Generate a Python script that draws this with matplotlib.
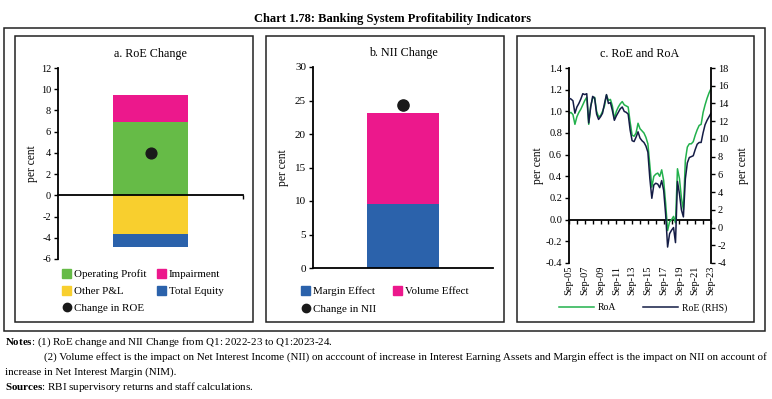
import numpy as np
import pandas as pd
import matplotlib
matplotlib.use("Agg")
import matplotlib.pyplot as plt
import matplotlib.patches as mpatches
from matplotlib.lines import Line2D

plt.rcParams["font.family"] = ["Liberation Serif", "DejaVu Serif"]
plt.rcParams["axes.unicode_minus"] = False
plt.rcParams["mathtext.fontset"] = "custom"
plt.rcParams["mathtext.rm"] = "Liberation Serif"
plt.rcParams["mathtext.bf"] = "Liberation Serif:bold"

# ---------------------------------------------------------------------------
# Data
# ---------------------------------------------------------------------------
# a. RoE change decomposition (per cent)
roe_pos_labels = ["Operating Profit", "Impairment"]
roe_pos_values = [6.9, 2.6]
roe_neg_labels = ["Other P&L", "Total Equity"]
roe_neg_values = [-3.6, -1.3]
roe_change = 4.0

# b. NII change decomposition (per cent)
nii_labels = ["Margin Effect", "Volume Effect"]
nii_values = [9.6, 13.5]
nii_change = 24.3

# c. RoA (LHS) and RoE (RHS), quarterly Sep-05 .. Sep-23
quarters = pd.period_range("2005Q3", "2023Q3", freq="Q")
roa = [0.98, 0.99, 0.97, 0.88, 0.95, 0.99, 1.02, 1.06, 1.10, 1.13,
       0.88, 1.05, 1.12, 1.13, 1.00, 0.95, 0.96, 1.00, 1.05, 1.15,
       1.10, 1.11, 1.05, 0.93, 1.00, 1.04, 1.07, 1.09, 1.06, 1.05,
       1.04, 0.90, 0.78, 0.77, 0.80, 0.89, 0.84, 0.82, 0.80, 0.76,
       0.70, 0.50, 0.30, 0.40, 0.42, 0.43, 0.40, 0.46, 0.36, 0.15,
       -0.10, -0.02, 0.00, 0.03, -0.03, 0.47, 0.38, 0.20, 0.09, 0.55,
       0.67, 0.70, 0.70, 0.72, 0.78, 0.83, 0.87, 0.88, 0.99, 1.06,
       1.12, 1.17, 1.21]
roe = [14.6, 14.5, 14.3, 12.9, 13.6, 14.0, 14.5, 15.1, 15.0, 15.1,
       11.8, 13.6, 14.8, 14.6, 12.8, 12.2, 12.5, 12.9, 14.0, 15.0,
       14.0, 14.1, 13.2, 12.1, 12.6, 13.0, 13.4, 13.6, 13.1, 13.0,
       12.8, 11.0, 9.8, 9.7, 10.2, 10.8, 10.1, 9.8, 9.6, 9.2,
       8.5, 5.5, 3.3, 4.8, 5.0, 4.9, 4.5, 5.3, 4.2, 1.5,
       -2.2, -0.7, -0.3, 0.0, -1.7, 5.2, 3.8, 2.0, 1.2, 5.5,
       7.3, 7.9, 8.0, 8.1, 8.8, 9.4, 9.6, 9.6, 10.7, 11.6,
       12.1, 12.5, 12.9]

# ---------------------------------------------------------------------------
# Styling
# ---------------------------------------------------------------------------
GREEN = "#66bb47"
PINK = "#ec188c"
YELLOW = "#f8cf2e"
BLUE = "#2b62ab"
DOT = "#1a1a1a"
LINE_GREEN = "#22b14c"
LINE_NAVY = "#141c45"

W, H = 772, 399
fig = plt.figure(figsize=(W / 100, H / 100), dpi=100)


def px_rect(x0, y0, x1, y1, lw=1.1):
    fig.patches.append(mpatches.Rectangle(
        (x0 / W, 1 - y1 / H), (x1 - x0) / W, (y1 - y0) / H,
        transform=fig.transFigure, fill=False, edgecolor="#222222", lw=lw))


def px_axes(x0, y0, x1, y1):
    return fig.add_axes([x0 / W, 1 - y1 / H, (x1 - x0) / W, (y1 - y0) / H])


# frames
px_rect(4, 28, 765, 331)
px_rect(15, 36, 253, 322)
px_rect(266, 36, 504, 322)
px_rect(517, 36, 754, 322)

fig.text(393 / W, 1 - 19 / H, "Chart 1.78: Banking System Profitability Indicators",
         ha="center", va="center", fontsize=9, fontweight="bold")

TICK_FS = 7.5
LAB_FS = 8.3
TITLE_FS = 8.7
LEG_FS = 7.9

# ---------------------------------------------------------------------------
# a. RoE Change
# ---------------------------------------------------------------------------
ax = px_axes(58, 68, 243, 259)
ax.bar(0, roe_pos_values[0], width=0.81, color=GREEN)
ax.bar(0, roe_pos_values[1], bottom=roe_pos_values[0], width=0.81, color=PINK)
ax.bar(0, roe_neg_values[0], width=0.81, color=YELLOW)
ax.bar(0, roe_neg_values[1], bottom=roe_neg_values[0], width=0.81, color=BLUE)
ax.scatter([0], [roe_change], s=60, color=DOT, zorder=5)
ax.set_xlim(-1, 1)
ax.set_ylim(-6, 12)
ax.set_yticks(np.arange(-6, 13, 2))
ax.set_xticks([1])
ax.set_xticklabels([])
for s in ["top", "right"]:
    ax.spines[s].set_visible(False)
ax.spines["bottom"].set_position(("data", 0))
ax.spines["bottom"].set_linewidth(1.3)
ax.spines["left"].set_linewidth(1.3)
ax.tick_params(axis="both", direction="out", length=3, width=1, labelsize=TICK_FS, pad=2)
ax.set_ylabel("per cent", fontsize=LAB_FS, labelpad=2)
ax.set_title("a. RoE Change", fontsize=TITLE_FS, pad=8)
handles_a = [
    mpatches.Patch(color=GREEN, label=roe_pos_labels[0]),
    mpatches.Patch(color=YELLOW, label=roe_neg_labels[0]),
    Line2D([], [], marker="o", ls="", color=DOT, markersize=6, label="Change in ROE"),
    mpatches.Patch(color=PINK, label=roe_pos_labels[1]),
    mpatches.Patch(color=BLUE, label=roe_neg_labels[1]),
]
ax.legend(handles=handles_a, ncol=2, loc="upper left", bbox_to_anchor=(0.0, -0.03),
          frameon=False, fontsize=LEG_FS, handlelength=0.8, handleheight=0.8,
          handletextpad=0.3, columnspacing=0.9, labelspacing=0.65, borderaxespad=0)

# ---------------------------------------------------------------------------
# b. NII Change
# ---------------------------------------------------------------------------
bx = px_axes(313, 67, 493, 268)
bx.bar(0, nii_values[0], width=0.8, color=BLUE)
bx.bar(0, nii_values[1], bottom=nii_values[0], width=0.8, color=PINK)
bx.scatter([0], [nii_change], s=65, color=DOT, zorder=5)
bx.set_xlim(-1, 1)
bx.set_ylim(0, 30)
bx.set_yticks(np.arange(0, 31, 5))
bx.set_xticks([])
for s in ["top", "right"]:
    bx.spines[s].set_visible(False)
bx.spines["bottom"].set_linewidth(1.3)
bx.spines["left"].set_linewidth(1.3)
bx.tick_params(axis="y", direction="out", length=3, width=1, labelsize=TICK_FS + 0.5, pad=2)
bx.set_ylabel("per cent", fontsize=LAB_FS, labelpad=4)
bx.set_title("b. NII Change", fontsize=TITLE_FS, pad=8)
handles_b = [
    mpatches.Patch(color=BLUE, label=nii_labels[0]),
    Line2D([], [], marker="o", ls="", color=DOT, markersize=6, label="Change in NII"),
    mpatches.Patch(color=PINK, label=nii_labels[1]),
]
bx.legend(handles=handles_b, ncol=2, loc="upper left", bbox_to_anchor=(-0.09, -0.07),
          frameon=False, fontsize=LEG_FS, handlelength=0.8, handleheight=0.8,
          handletextpad=0.3, columnspacing=1.5, labelspacing=0.65, borderaxespad=0)

# ---------------------------------------------------------------------------
# c. RoE and RoA
# ---------------------------------------------------------------------------
cx = px_axes(569, 68, 711, 263)
x = np.arange(len(quarters))
cx.plot(x, roa, color=LINE_GREEN, lw=1.1, label="RoA")
cx.set_xlim(0, len(quarters) - 1)
ylim_c = (-0.4, 1.4)
cx.set_ylim(*ylim_c)
cx.set_yticks(np.arange(-0.4, 1.41, 0.2))
cx.yaxis.set_major_formatter(matplotlib.ticker.FormatStrFormatter("%.1f"))
cx.tick_params(axis="y", direction="out", length=3, width=1, labelsize=TICK_FS, pad=2)
label_pos = x[::8]
cx.set_xticks(label_pos)
cx.set_xticklabels([q.strftime("%b-%y") for q in quarters[::8]], rotation=90,
                   fontsize=TICK_FS)
cx.tick_params(axis="x", length=0, pad=2)
for s in ["top", "right", "bottom"]:
    cx.spines[s].set_visible(False)
cx.spines["left"].set_linewidth(1.3)
cx.set_ylabel("per cent", fontsize=LAB_FS, labelpad=1)
cx.set_title("c. RoE and RoA", fontsize=TITLE_FS, pad=8)

# zero line with yearly ticks
zero_loc = (0 - ylim_c[0]) / (ylim_c[1] - ylim_c[0])
sec = cx.secondary_xaxis(zero_loc)
sec.set_xticks(x[::4])
sec.set_xticklabels([])
sec.tick_params(axis="x", direction="out", length=3, width=1)
sec.spines["bottom"].set_linewidth(1.3)

cx2 = cx.twinx()
cx2.plot(x, roe, color=LINE_NAVY, lw=1.1, label="RoE (RHS)")
cx2.set_ylim(-4, 18)
cx2.set_yticks(np.arange(-4, 19, 2))
for s in ["top", "left", "bottom"]:
    cx2.spines[s].set_visible(False)
cx2.spines["right"].set_linewidth(1.3)
cx2.tick_params(axis="y", direction="out", length=3, width=1, labelsize=TICK_FS, pad=2)
cx2.set_ylabel("per cent", fontsize=LAB_FS, labelpad=6)

handles_c = [Line2D([], [], color=LINE_GREEN, lw=1.1, label="RoA"),
             Line2D([], [], color=LINE_NAVY, lw=1.1, label="RoE (RHS)")]
cx.legend(handles=handles_c, ncol=2, loc="center", bbox_to_anchor=(0.52, -0.23),
          frameon=False, fontsize=7.0, handlelength=3.6, handletextpad=0.4,
          columnspacing=2.8, borderaxespad=0)

# ---------------------------------------------------------------------------
# Notes
# ---------------------------------------------------------------------------
NOTE_FS = 7.9
fig.text(5 / W, 1 - 342 / H, r"$\bf{Notes}$: (1) RoE change and NII Change from Q1: 2022-23 to Q1:2023-24.",
         fontsize=NOTE_FS, va="center")
fig.text(44 / W, 1 - 357 / H,
         "(2) Volume effect is the impact on Net Interest Income (NII) on acccount of increase in "
         "Interest Earning Assets and Margin effect is the impact on NII on account of",
         fontsize=NOTE_FS, va="center")
fig.text(5 / W, 1 - 372 / H, "increase in Net Interest Margin (NIM).", fontsize=NOTE_FS, va="center")
fig.text(5 / W, 1 - 387 / H, r"$\bf{Sources}$: RBI supervisory returns and staff calculations.",
         fontsize=NOTE_FS, va="center")

fig.savefig("out.png", dpi=100)
